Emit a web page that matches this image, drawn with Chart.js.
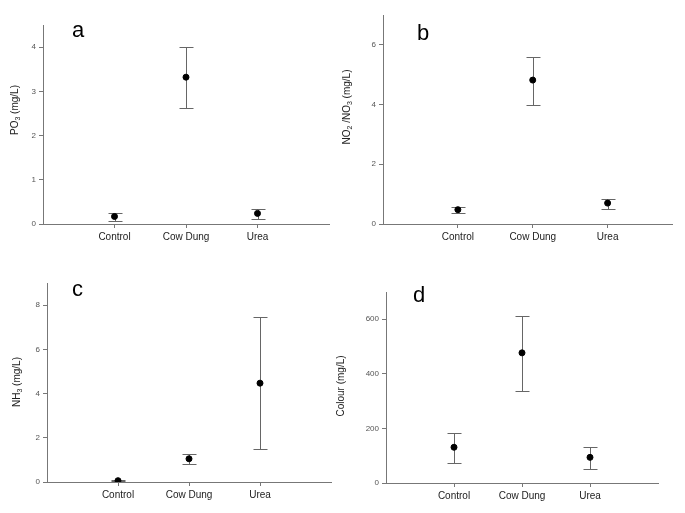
<!DOCTYPE html>
<html>
<head>
<meta charset="utf-8">
<script src="https://cdn.jsdelivr.net/npm/chart.js@4"></script>
<style>
  body { margin: 0; background: #fff; }
  .panel { position: absolute; }
</style>
</head>
<body>
<div class="panel" style="left:0px;top:0px"><canvas id="chartA" width="340" height="250"></canvas></div>
<div class="panel" style="left:340px;top:0px"><canvas id="chartB" width="345" height="250"></canvas></div>
<div class="panel" style="left:0px;top:255px"><canvas id="chartC" width="336" height="258"></canvas></div>
<div class="panel" style="left:336px;top:255px"><canvas id="chartD" width="349" height="258"></canvas></div>
<script>
const categories = ['Control', 'Cow Dung', 'Urea'];

// a - PO3
const po3Mean = [0.17, 3.32, 0.24];
const po3Low = [0.07, 2.62, 0.12];
const po3High = [0.24, 4.0, 0.33];
const po3Ticks = [0, 1, 2, 3, 4];

// b - NO2/NO3
const noxMean = [0.48, 4.82, 0.70];
const noxLow = [0.37, 4.0, 0.50];
const noxHigh = [0.57, 5.59, 0.85];
const noxTicks = [0, 2, 4, 6];

// c - NH3
const nh3Mean = [0.06, 1.05, 4.47];
const nh3Low = [0.03, 0.81, 1.47];
const nh3High = [0.09, 1.25, 7.45];
const nh3Ticks = [0, 2, 4, 6, 8];

// d - colour
const colourMean = [131, 477, 94];
const colourLow = [72, 339, 52];
const colourHigh = [185, 611, 131];
const colourTicks = [0, 200, 400, 600];

const axisColor = '#777';
const fontFamily = '"Liberation Sans", Arial, sans-serif';

// whiskers under the points, panel letter and a y title with real subscripts
const extras = {
  id: 'extras',
  beforeDatasetsDraw(chart, args, opts) {
    const ctx = chart.ctx;
    const xs = chart.scales.x, ys = chart.scales.y;
    ctx.save();
    ctx.strokeStyle = '#666';
    ctx.lineWidth = 1;
    opts.low.forEach((lo, i) => {
      const x = Math.round(xs.getPixelForValue(i + 1)) + 0.5;
      const y1 = Math.round(ys.getPixelForValue(lo)) + 0.5;
      const y2 = Math.round(ys.getPixelForValue(opts.high[i])) + 0.5;
      ctx.beginPath();
      ctx.moveTo(x, y1); ctx.lineTo(x, y2);
      ctx.moveTo(x - 7, y1); ctx.lineTo(x + 7, y1);
      ctx.moveTo(x - 7, y2); ctx.lineTo(x + 7, y2);
      ctx.stroke();
    });
    ctx.restore();
  },
  afterDraw(chart, args, opts) {
    const ctx = chart.ctx;
    ctx.save();
    ctx.fillStyle = '#000';
    ctx.font = '22px ' + fontFamily;
    ctx.textBaseline = 'alphabetic';
    ctx.fillText(opts.letter, chart.chartArea.left + opts.lx, chart.chartArea.top + opts.ly);

    // rotated y title
    ctx.translate(opts.titleX, opts.titleY);
    ctx.rotate(-Math.PI / 2);
    ctx.fillStyle = '#222';
    ctx.textBaseline = 'middle';
    const fontOf = seg => (seg.sub ? '7px ' : '10px ') + fontFamily;
    let total = 0;
    opts.title.forEach(seg => { ctx.font = fontOf(seg); total += ctx.measureText(seg.t).width; });
    let x = -total / 2;
    opts.title.forEach(seg => {
      ctx.font = fontOf(seg);
      ctx.fillText(seg.t, x, seg.sub ? 3 : 0);
      x += ctx.measureText(seg.t).width;
    });
    ctx.restore();
  }
};

function makePanel(id, cfg) {
  new Chart(document.getElementById(id), {
    type: 'scatter',
    data: {
      datasets: [{
        data: cfg.mean.map((m, i) => ({ x: i + 1, y: m })),
        backgroundColor: '#000',
        borderColor: '#000',
        pointRadius: 3,
        pointHoverRadius: 3
      }]
    },
    options: {
      responsive: false,
      animation: false,
      devicePixelRatio: 1,
      layout: { padding: { top: cfg.padTop, right: cfg.padRight, left: 0, bottom: 0 } },
      plugins: {
        legend: { display: false },
        tooltip: { enabled: false },
        extras: {
          low: cfg.low, high: cfg.high, letter: cfg.letter, lx: cfg.lx, ly: cfg.ly,
          title: cfg.title, titleX: cfg.titleX, titleY: cfg.titleY
        }
      },
      scales: {
        x: {
          type: 'linear',
          min: 0,
          max: cfg.xMax,
          afterBuildTicks: s => { s.ticks = categories.map((c, i) => ({ value: i + 1 })); },
          afterFit: s => { s.height = cfg.xH; },
          border: { display: true, color: axisColor, width: 1 },
          grid: { display: true, drawOnChartArea: false, drawTicks: true, tickLength: 4, color: axisColor },
          ticks: {
            padding: 3,
            color: '#222',
            font: { family: fontFamily, size: 10 },
            maxRotation: 0,
            callback: v => categories[v - 1]
          }
        },
        y: {
          min: 0,
          max: cfg.yMax,
          afterBuildTicks: s => { s.ticks = cfg.ticks.map(v => ({ value: v })); },
          afterFit: s => { s.width = cfg.yW; },
          border: { display: true, color: axisColor, width: 1 },
          grid: { display: true, drawOnChartArea: false, drawTicks: true, tickLength: 4, color: axisColor },
          ticks: {
            padding: 3,
            color: '#555',
            font: { family: fontFamily, size: 8 }
          }
        }
      }
    },
    plugins: [extras]
  });
}

makePanel('chartA', {
  mean: po3Mean, low: po3Low, high: po3High, ticks: po3Ticks,
  yMax: 4.5, xMax: 4, letter: 'a',
  title: [{ t: 'PO' }, { t: '3', sub: true }, { t: ' (mg/L)' }], titleX: 15, titleY: 110,
  yW: 43, padTop: 25, padRight: 11, xH: 26, lx: 29, ly: 12
});
makePanel('chartB', {
  mean: noxMean, low: noxLow, high: noxHigh, ticks: noxTicks,
  yMax: 7, xMax: 3.86, letter: 'b',
  title: [{ t: 'NO' }, { t: '2', sub: true }, { t: ' /NO' }, { t: '3', sub: true }, { t: ' (mg/L)' }],
  titleX: 7, titleY: 107,
  yW: 43, padTop: 15, padRight: 13, xH: 26, lx: 34, ly: 25
});
makePanel('chartC', {
  mean: nh3Mean, low: nh3Low, high: nh3High, ticks: nh3Ticks,
  yMax: 9, xMax: 4, letter: 'c',
  title: [{ t: 'NH' }, { t: '3', sub: true }, { t: ' (mg/L)' }], titleX: 17, titleY: 127,
  yW: 47, padTop: 28, padRight: 5, xH: 31, lx: 25, ly: 13
});
makePanel('chartD', {
  mean: colourMean, low: colourLow, high: colourHigh, ticks: colourTicks,
  yMax: 700, xMax: 4, letter: 'd',
  title: [{ t: 'Colour (mg/L)' }], titleX: 5, titleY: 131,
  yW: 50, padTop: 37, padRight: 27, xH: 30, lx: 27, ly: 10
});
</script>
</body>
</html>
